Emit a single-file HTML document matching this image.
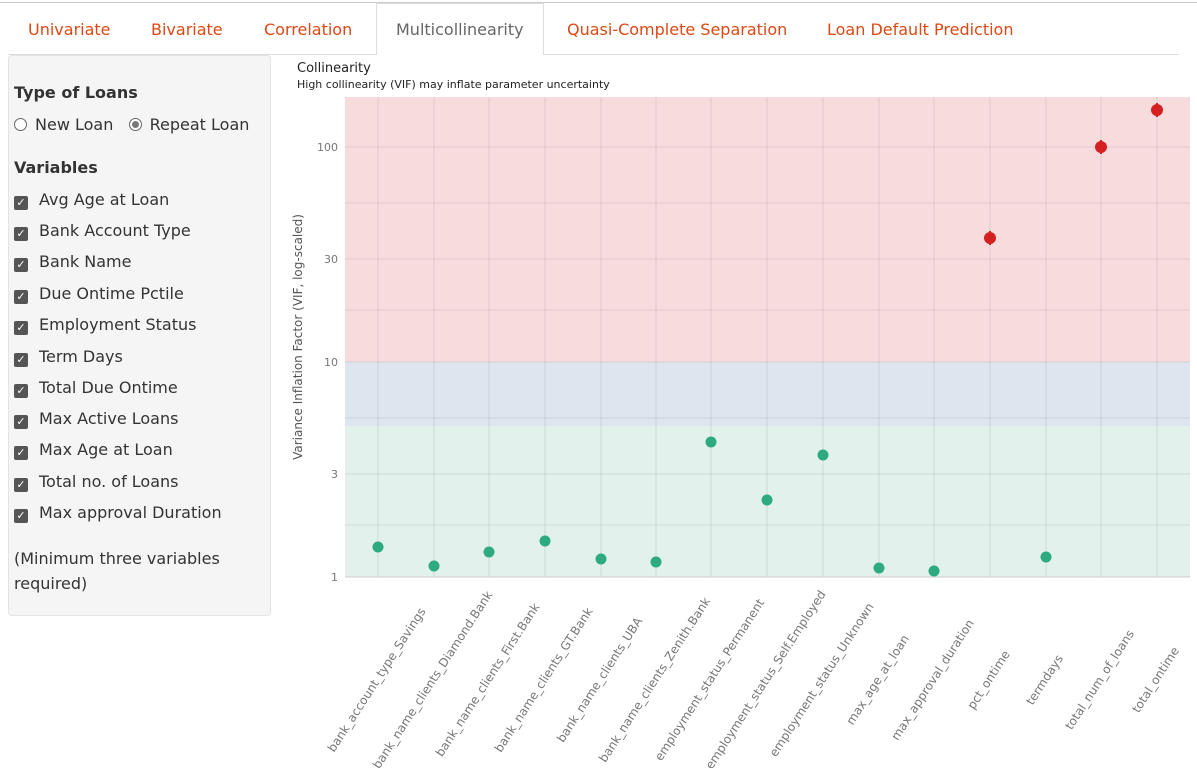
<!DOCTYPE html>
<html><head><style>
body{margin:0;width:1197px;height:768px;overflow:hidden;background:#fff;font-family:"DejaVu Sans","Liberation Sans",sans-serif;color:#333;position:relative}
.topline{position:absolute;left:0;top:2px;width:1197px;height:1px;background:#ccc}
.tabs{position:absolute;left:8px;top:54px;width:1171px;height:1px;background:#ddd}
.tab{position:absolute;top:20px;font-size:16px;color:#dd4814}
.active{position:absolute;left:376px;top:3px;width:168px;height:52px;background:#fff;border:1px solid #ddd;border-bottom:none;box-sizing:border-box}
.panel{position:absolute;left:8px;top:55px;width:263px;height:561px;background:#f5f5f5;border:1px solid #e3e3e3;border-radius:4px;box-sizing:border-box}
.h{position:absolute;left:14px;font-size:16px;font-weight:bold;color:#333}
.it{position:absolute;left:14px;font-size:16px;color:#333;white-space:nowrap}
.cb{display:inline-block;width:14px;height:14px;background:#555;border-radius:2px;vertical-align:-1px;margin-right:11px;color:#fff;font-size:11px;line-height:14px;text-align:center}
.rb{display:inline-block;width:11px;height:11px;border:1px solid #666;border-radius:50%;vertical-align:-1px;margin-right:8px;background:#fff;position:relative}
</style></head><body>
<div class="topline"></div>
<div class="tabs"></div>
<div class="active"></div>
<div class="tab" style="left:28px">Univariate</div>
<div class="tab" style="left:151px">Bivariate</div>
<div class="tab" style="left:264px">Correlation</div>
<div class="tab" style="left:396px;color:#666">Multicollinearity</div>
<div class="tab" style="left:567px">Quasi-Complete Separation</div>
<div class="tab" style="left:827px">Loan Default Prediction</div>
<div class="panel"></div>
<div class="h" style="top:83px">Type of Loans</div>
<div class="it" style="top:115px"><span class="rb"></span>New Loan&nbsp;&nbsp;&nbsp;<span class="rb"><span style="position:absolute;left:2px;top:2px;width:7px;height:7px;border-radius:50%;background:#777"></span></span>Repeat Loan</div>
<div class="h" style="top:158px">Variables</div>
<div class="it" style="top:190px"><span class="cb">✓</span>Avg Age at Loan</div>
<div class="it" style="top:221px"><span class="cb">✓</span>Bank Account Type</div>
<div class="it" style="top:252px"><span class="cb">✓</span>Bank Name</div>
<div class="it" style="top:284px"><span class="cb">✓</span>Due Ontime Pctile</div>
<div class="it" style="top:315px"><span class="cb">✓</span>Employment Status</div>
<div class="it" style="top:347px"><span class="cb">✓</span>Term Days</div>
<div class="it" style="top:378px"><span class="cb">✓</span>Total Due Ontime</div>
<div class="it" style="top:409px"><span class="cb">✓</span>Max Active Loans</div>
<div class="it" style="top:440px"><span class="cb">✓</span>Max Age at Loan</div>
<div class="it" style="top:472px"><span class="cb">✓</span>Total no. of Loans</div>
<div class="it" style="top:503px"><span class="cb">✓</span>Max approval Duration</div>
<div class="it" style="top:546px;line-height:25px">(Minimum three variables<br>required)</div>
<svg style="position:absolute;left:0;top:0" width="1197" height="768" font-family="DejaVu Sans, Liberation Sans, sans-serif">
<text x="297" y="72" font-size="13" fill="#222">Collinearity</text>
<text x="297" y="88" font-size="11" fill="#222">High collinearity (VIF) may inflate parameter uncertainty</text>
<rect x="345" y="97" width="845" height="265" fill="#f7dcde"/>
<rect x="345" y="362" width="845" height="64" fill="#dde6ef"/>
<rect x="345" y="426" width="845" height="151" fill="#e2f1ec"/>
<g stroke="#000" stroke-opacity="0.09" stroke-width="1">
<line x1="345" x2="1190" y1="147" y2="147"/><line x1="345" x2="1190" y1="203" y2="203"/><line x1="345" x2="1190" y1="259" y2="259"/><line x1="345" x2="1190" y1="310" y2="310"/><line x1="345" x2="1190" y1="362" y2="362"/><line x1="345" x2="1190" y1="418" y2="418"/><line x1="345" x2="1190" y1="474" y2="474"/><line x1="345" x2="1190" y1="525" y2="525"/>
<line y1="97" y2="577" x1="378" x2="378"/><line y1="97" y2="577" x1="434" x2="434"/><line y1="97" y2="577" x1="489" x2="489"/><line y1="97" y2="577" x1="545" x2="545"/><line y1="97" y2="577" x1="601" x2="601"/><line y1="97" y2="577" x1="656" x2="656"/><line y1="97" y2="577" x1="711" x2="711"/><line y1="97" y2="577" x1="767" x2="767"/><line y1="97" y2="577" x1="823" x2="823"/><line y1="97" y2="577" x1="879" x2="879"/><line y1="97" y2="577" x1="934" x2="934"/><line y1="97" y2="577" x1="990" x2="990"/><line y1="97" y2="577" x1="1046" x2="1046"/><line y1="97" y2="577" x1="1101" x2="1101"/><line y1="97" y2="577" x1="1157" x2="1157"/>
</g>
<line x1="345" x2="1190" y1="577" y2="577" stroke="#ccc"/>
<g font-size="11" fill="#777" text-anchor="end">
<text x="338" y="151">100</text><text x="338" y="263">30</text><text x="338" y="366">10</text><text x="338" y="478">3</text><text x="338" y="581">1</text>
</g>
<text transform="translate(302,337) rotate(-90)" font-size="12" fill="#555" text-anchor="middle">Variance Inflation Factor (VIF, log-scaled)</text>
<g fill="#2eaa80">
<circle cx="378" cy="547" r="5.5"/><circle cx="434" cy="566" r="5.5"/><circle cx="489" cy="552" r="5.5"/><circle cx="545" cy="541" r="5.5"/><circle cx="601" cy="559" r="5.5"/><circle cx="656" cy="562" r="5.5"/><circle cx="711" cy="442" r="5.5"/><circle cx="767" cy="500" r="5.5"/><circle cx="823" cy="455" r="5.5"/><circle cx="879" cy="568" r="5.5"/><circle cx="934" cy="571" r="5.5"/><circle cx="1046" cy="557" r="5.5"/>
</g>
<g fill="#d42020" stroke="#d42020" stroke-width="2">
<circle cx="990" cy="238" r="5"/><line x1="990" x2="990" y1="231" y2="245"/>
<circle cx="1101" cy="147" r="5"/><line x1="1101" x2="1101" y1="140" y2="154"/>
<circle cx="1157" cy="110" r="5"/><line x1="1157" x2="1157" y1="103" y2="117"/>
</g>
<g font-size="12" fill="#777" text-anchor="middle">
<text transform="translate(380,682) rotate(-57)">bank_account_type_Savings</text>
<text transform="translate(436,682) rotate(-57)">bank_name_clients_Diamond.Bank</text>
<text transform="translate(491,682) rotate(-57)">bank_name_clients_First.Bank</text>
<text transform="translate(547,682) rotate(-57)">bank_name_clients_GT.Bank</text>
<text transform="translate(603,682) rotate(-57)">bank_name_clients_UBA</text>
<text transform="translate(658,682) rotate(-57)">bank_name_clients_Zenith.Bank</text>
<text transform="translate(713,682) rotate(-57)">employment_status_Permanent</text>
<text transform="translate(769,682) rotate(-57)">employment_status_Self.Employed</text>
<text transform="translate(825,682) rotate(-57)">employment_status_Unknown</text>
<text transform="translate(881,682) rotate(-57)">max_age_at_loan</text>
<text transform="translate(936,682) rotate(-57)">max_approval_duration</text>
<text transform="translate(992,682) rotate(-57)">pct_ontime</text>
<text transform="translate(1048,682) rotate(-57)">termdays</text>
<text transform="translate(1103,682) rotate(-57)">total_num_of_loans</text>
<text transform="translate(1159,682) rotate(-57)">total_ontime</text>
</g>
</svg>
</body></html>
